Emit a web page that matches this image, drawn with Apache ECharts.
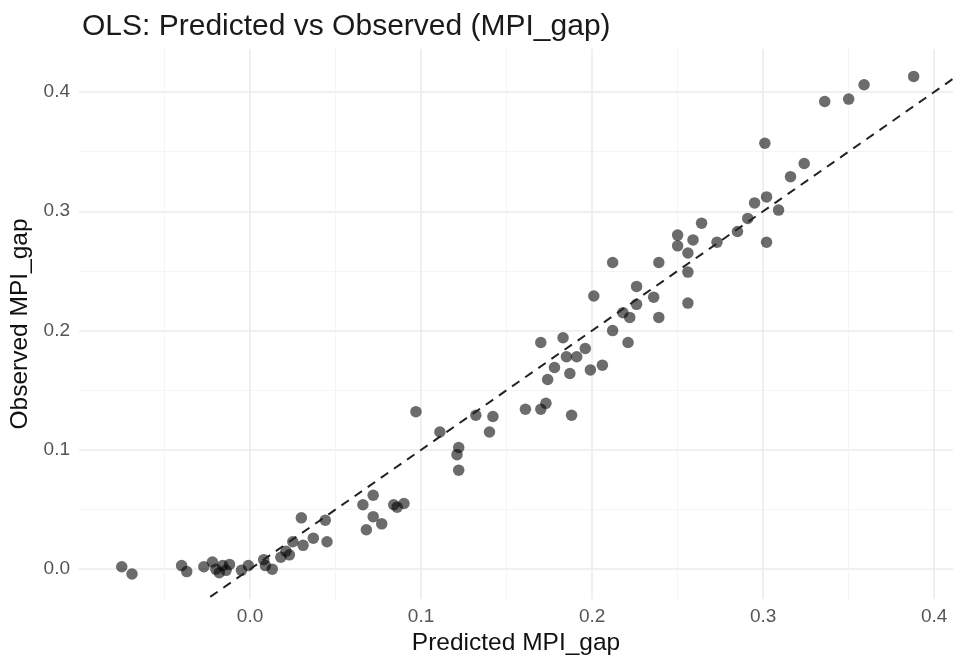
<!DOCTYPE html>
<html>
<head>
<meta charset="utf-8">
<script src="https://cdn.jsdelivr.net/npm/echarts@6/dist/echarts.min.js"></script>
<style>
  html, body { margin: 0; background: #fff; }
  #chart { width: 953px; height: 657px; }
</style>
</head>
<body>
<div id="chart"></div>
<script>
// values
const predicted = [
  -0.075, -0.069, -0.040, -0.037, -0.027, -0.022, -0.020, -0.018, -0.016, -0.012, -0.014, -0.005, -0.001,
  0.008, 0.009, 0.013, 0.018, 0.021, 0.023, 0.025, 0.031, 0.030, 0.037, 0.044, 0.045,
  0.066, 0.072, 0.072, 0.077, 0.068, 0.084, 0.090, 0.086,
  0.097, 0.111, 0.122, 0.121, 0.122, 0.132, 0.142, 0.140,
  0.161, 0.170, 0.173, 0.188,
  0.170, 0.183, 0.196, 0.185, 0.191, 0.178, 0.187, 0.174, 0.199, 0.206,
  0.201, 0.212, 0.221, 0.212, 0.239, 0.226, 0.236, 0.226, 0.218, 0.222, 0.239,
  0.256, 0.256, 0.256, 0.250, 0.250, 0.259, 0.264, 0.273, 0.285, 0.291, 0.295, 0.302, 0.309, 0.302,
  0.301, 0.316, 0.324, 0.336, 0.350, 0.359, 0.388
];
const observed = [
  0.002, -0.004, 0.003, -0.002, 0.002, 0.006, 0.000, -0.003, 0.003, 0.004, -0.001, -0.001, 0.003,
  0.008, 0.003, 0.000, 0.010, 0.015, 0.012, 0.023, 0.020, 0.043, 0.026, 0.041, 0.023,
  0.054, 0.062, 0.044, 0.038, 0.033, 0.054, 0.055, 0.052,
  0.132, 0.115, 0.102, 0.096, 0.083, 0.129, 0.128, 0.115,
  0.134, 0.134, 0.139, 0.129,
  0.190, 0.194, 0.185, 0.178, 0.178, 0.169, 0.164, 0.159, 0.167, 0.171,
  0.229, 0.200, 0.190, 0.257, 0.257, 0.237, 0.228, 0.222, 0.215, 0.211, 0.211,
  0.223, 0.249, 0.265, 0.280, 0.271, 0.276, 0.290, 0.274, 0.283, 0.294, 0.307, 0.312, 0.301, 0.274,
  0.357, 0.329, 0.340, 0.392, 0.394, 0.406, 0.413
];
// y = x reference line (clipped by the grid)
const refLine = [-0.1, 0.5];

const xRange = [-0.1, 0.411];
const yRange = [-0.025, 0.436];

const points = predicted.map((p, i) => [p, observed[i]]);

// only label the 0.1 steps
function tenths(v) {
  const r = Math.round(v * 10);
  return (Math.abs(v * 10 - r) < 1e-6 && r >= 0) ? (r / 10).toFixed(1) : '';
}

const labelStyle = { color: '#555', fontSize: 19, fontFamily: 'Liberation Sans' };
const nameStyle = { color: '#111', fontSize: 24.5, fontFamily: 'Liberation Sans' };
const none = 'rgba(0,0,0,0)';
const major = '#ebebeb';
const minor = '#f3f3f3';

const chart = echarts.init(document.getElementById('chart'));
chart.setOption({
  animation: false,
  backgroundColor: '#fff',
  title: {
    text: 'OLS: Predicted vs Observed (MPI_gap)',
    left: 77,
    top: 7,
    textStyle: { color: '#1a1a1a', fontSize: 30, fontWeight: 'normal', fontFamily: 'Liberation Sans' }
  },
  grid: { left: 79, right: 0, top: 49, bottom: 58, outerBoundsMode: 'none' },
  xAxis: [
    {
      type: 'value', min: xRange[0], max: xRange[1], interval: 0.1,
      name: 'Predicted MPI_gap', nameLocation: 'middle', nameGap: 29, nameTextStyle: nameStyle,
      axisLine: { show: false }, axisTick: { show: false },
      axisLabel: Object.assign({ margin: 8, formatter: tenths }, labelStyle),
      splitLine: { showMinLine: false, showMaxLine: false, lineStyle: { color: major, width: 1.6 } }
    },
    {
      type: 'value', min: xRange[0], max: xRange[1], interval: 0.05, position: 'bottom',
      axisLine: { show: false }, axisTick: { show: false }, axisLabel: { show: false },
      splitLine: { showMaxLine: false, lineStyle: { color: [none, minor], width: 0.8 } }
    }
  ],
  yAxis: [
    {
      type: 'value', min: yRange[0], max: yRange[1], interval: 0.025,
      name: 'Observed MPI_gap', nameLocation: 'middle', nameGap: 45, nameTextStyle: nameStyle,
      axisLine: { show: false }, axisTick: { show: false },
      axisLabel: Object.assign({ margin: 9, formatter: tenths }, labelStyle),
      splitLine: { showMaxLine: false, lineStyle: { color: [none, major, none, none], width: 1.6 } }
    },
    {
      type: 'value', min: yRange[0], max: yRange[1], interval: 0.025, position: 'left',
      axisLine: { show: false }, axisTick: { show: false }, axisLabel: { show: false },
      splitLine: { showMaxLine: false, lineStyle: { color: [none, none, none, minor], width: 0.8 } }
    }
  ],
  series: [
    {
      type: 'scatter',
      data: points,
      symbolSize: 11.5,
      itemStyle: { color: 'rgba(0,0,0,0.72)' },
      z: 3
    },
    {
      type: 'line',
      data: refLine.map(v => [v, v]),
      showSymbol: false,
      clip: true,
      lineStyle: { color: '#222', width: 2, type: [9, 7] },
      z: 4
    }
  ]
});
</script>
</body>
</html>
